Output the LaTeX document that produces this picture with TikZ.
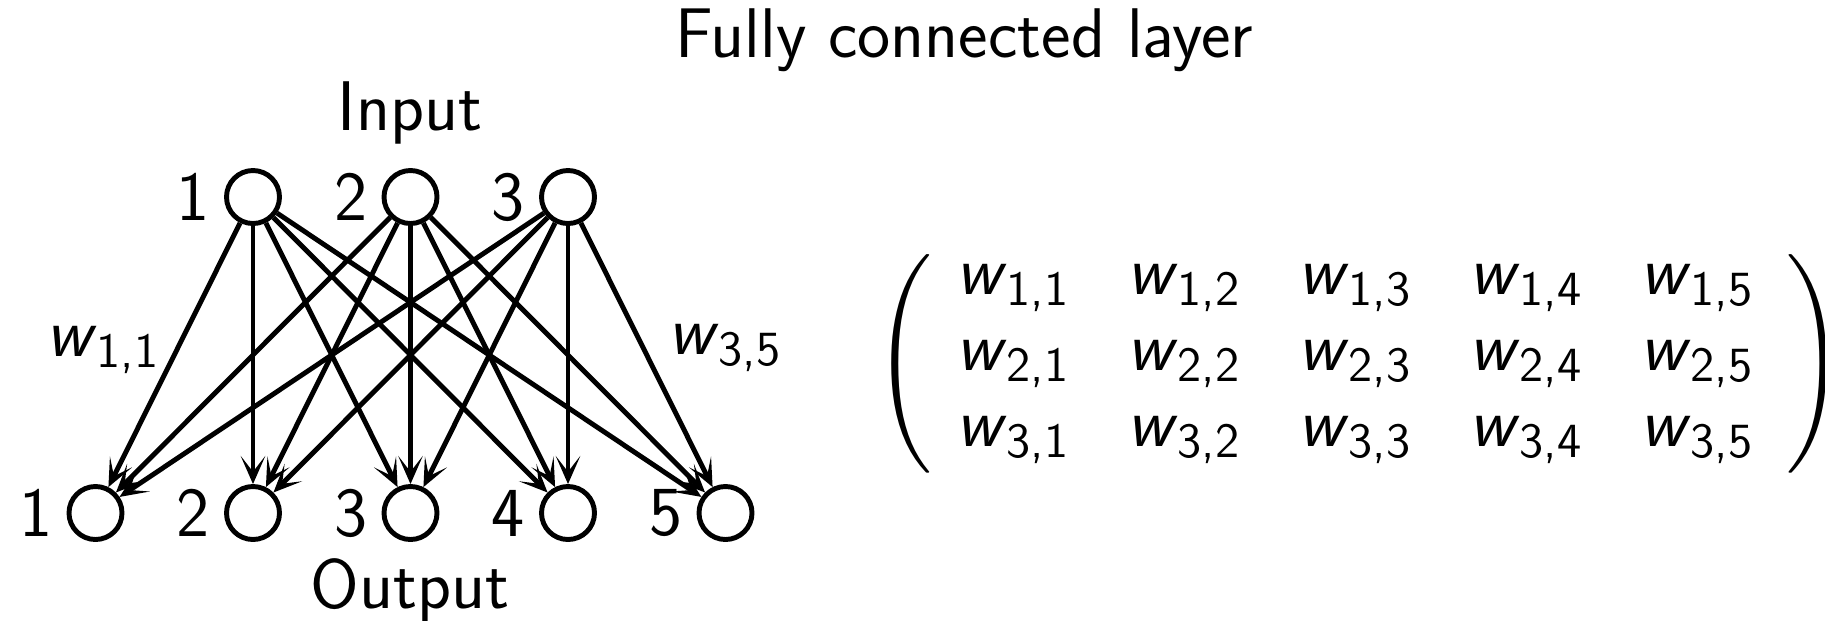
\documentclass[tikz,border=0pt]{standalone}
\usepackage{amsmath}
\usepackage{fontspec}
\usepackage{tikz}
\usetikzlibrary{positioning,matrix,arrows.meta}

\newcommand{\wgt}[2]{\textit{w}\textsubscript{#1,#2}}

\begin{document}
\begin{tikzpicture}[line width=1.4pt, font=\sffamily\fontsize{20}{24}\selectfont,
        >={Stealth[length=8pt,width=7pt,inset=4.5pt]}]
    \tikzstyle{neuron}=[draw, circle, minimum size=.53cm, inner sep=0pt]
    \tikzstyle{every delimiter}=[inner sep=0pt]
    \tikzstyle{every left delimiter}=[xshift=.23cm]
    \tikzstyle{every right delimiter}=[xshift=-.14cm]
    \useasboundingbox (0,0) rectangle (18.25,-6.2);
    \node (title) at (9.64,-.4) {Fully connected layer};
    \node (inp) at (4.1,-1.13) {Input};
    \node (outp) at (4.1,-5.9) {Output};
    \foreach \i in {1,2,3} {
        \node[neuron] (in\i) at (.955+1.575*\i,-1.97) {};
        \node[left=0pt of in\i] (nin\i) {\i};
    }
    \foreach \j in {1,...,5} {
        \node[neuron] (out\j) at (.955+1.575*\j-1.575,-5.13) {};
        \node[left=0pt of out\j] (nout\j) {\j};
    }
    \foreach \i in {1,2,3}
        \foreach \j in {1,...,5}
            \draw[->] (in\i) -- (out\j);
    \node (w11) at (1.03,-3.5) {\wgt11};
    \node (w35) at (7.25,-3.48) {\wgt35};
    \matrix (W) at (13.55,-3.64) [matrix of nodes, left delimiter=(, right delimiter=),
        row sep=.26cm, nodes={minimum width=1.71cm, minimum height=.5cm, inner sep=0pt}] {
        \wgt11 & \wgt12 & \wgt13 & \wgt14 & \wgt15 \\
        \wgt21 & \wgt22 & \wgt23 & \wgt24 & \wgt25 \\
        \wgt31 & \wgt32 & \wgt33 & \wgt34 & \wgt35 \\
    };
\end{tikzpicture}
\end{document}
